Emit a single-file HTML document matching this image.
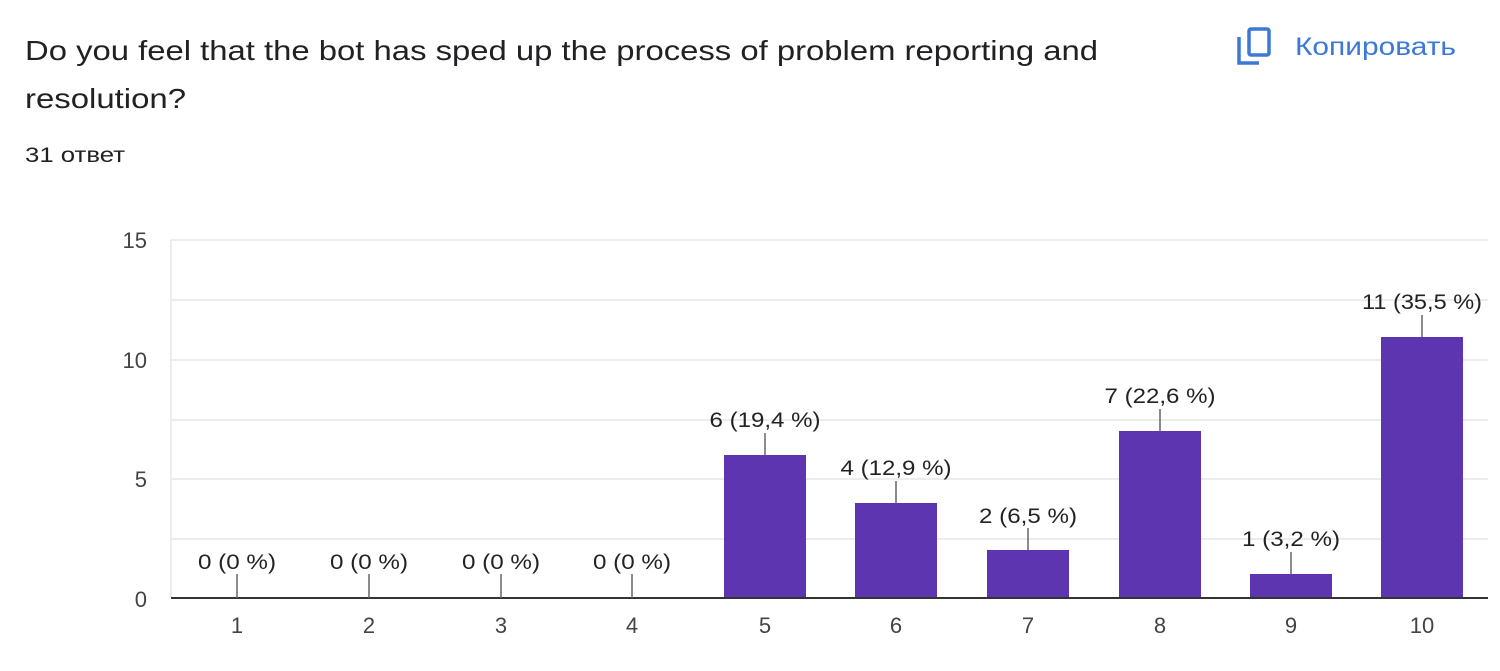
<!DOCTYPE html>
<html><head><meta charset="utf-8"><style>
html,body{margin:0;padding:0;background:#fff;width:1500px;height:671px;overflow:hidden;font-family:"Liberation Sans",Arial,sans-serif;}
</style></head><body>
<svg width="1500" height="671" xmlns="http://www.w3.org/2000/svg" font-family="Liberation Sans, Arial, sans-serif">
<text x="25" y="60" font-size="28" fill="#202124" textLength="1073" lengthAdjust="spacingAndGlyphs">Do you feel that the bot has sped up the process of problem reporting and</text>
<text x="25" y="108" font-size="28" fill="#202124" textLength="161" lengthAdjust="spacingAndGlyphs">resolution?</text>
<text x="25" y="162" font-size="21" fill="#202124" textLength="100" lengthAdjust="spacingAndGlyphs">31 ответ</text>
<g fill="none" stroke="#3c78d8" stroke-width="3.5">
<rect x="1249" y="29" width="20" height="26" rx="2"/>
<path d="M1239 37 V63 H1259"/>
</g>
<text x="1295" y="55" font-size="25" fill="#3c78d8" textLength="161" lengthAdjust="spacingAndGlyphs">Копировать</text>
<g stroke="#ececec" stroke-width="2">
<line x1="171" y1="240" x2="1488" y2="240"/>
<line x1="171" y1="300" x2="1488" y2="300"/>
<line x1="171" y1="360" x2="1488" y2="360"/>
<line x1="171" y1="420" x2="1488" y2="420"/>
<line x1="171" y1="479" x2="1488" y2="479"/>
<line x1="171" y1="539" x2="1488" y2="539"/>
<line x1="171" y1="240" x2="171" y2="598"/>
</g>
<g font-size="22" fill="#444" text-anchor="end">
<text x="147" y="248">15</text>
<text x="147" y="368">10</text>
<text x="147" y="487">5</text>
<text x="147" y="607">0</text>
</g>
<g fill="#5e35b1">
<rect x="724" y="455" width="82" height="143"/>
<rect x="855" y="503" width="82" height="95"/>
<rect x="987" y="550" width="82" height="48"/>
<rect x="1119" y="431" width="82" height="167"/>
<rect x="1250" y="574" width="82" height="24"/>
<rect x="1381" y="337" width="82" height="261"/>
</g>
<line x1="171" y1="598" x2="1488" y2="598" stroke="#333" stroke-width="2"/>
<g stroke="#666" stroke-width="1.5">
<line x1="237" y1="574" x2="237" y2="598"/>
<line x1="369" y1="574" x2="369" y2="598"/>
<line x1="501" y1="574" x2="501" y2="598"/>
<line x1="632" y1="574" x2="632" y2="598"/>
<line x1="765" y1="433" x2="765" y2="455"/>
<line x1="896" y1="481" x2="896" y2="503"/>
<line x1="1028" y1="528" x2="1028" y2="550"/>
<line x1="1160" y1="409" x2="1160" y2="431"/>
<line x1="1291" y1="552" x2="1291" y2="574"/>
<line x1="1422" y1="315" x2="1422" y2="337"/>
</g>
<g font-size="21" fill="#222" text-anchor="middle" lengthAdjust="spacingAndGlyphs">
<text x="237" y="569" textLength="78" lengthAdjust="spacingAndGlyphs">0 (0 %)</text>
<text x="369" y="569" textLength="78" lengthAdjust="spacingAndGlyphs">0 (0 %)</text>
<text x="501" y="569" textLength="78" lengthAdjust="spacingAndGlyphs">0 (0 %)</text>
<text x="632" y="569" textLength="78" lengthAdjust="spacingAndGlyphs">0 (0 %)</text>
<text x="765" y="427" textLength="111" lengthAdjust="spacingAndGlyphs">6 (19,4 %)</text>
<text x="896" y="475" textLength="111" lengthAdjust="spacingAndGlyphs">4 (12,9 %)</text>
<text x="1028" y="523" textLength="98" lengthAdjust="spacingAndGlyphs">2 (6,5 %)</text>
<text x="1160" y="403" textLength="111" lengthAdjust="spacingAndGlyphs">7 (22,6 %)</text>
<text x="1291" y="546" textLength="98" lengthAdjust="spacingAndGlyphs">1 (3,2 %)</text>
<text x="1422" y="309" textLength="120" lengthAdjust="spacingAndGlyphs">11 (35,5 %)</text>
</g>
<g font-size="22" fill="#444" text-anchor="middle">
<text x="237" y="633">1</text><text x="369" y="633">2</text><text x="501" y="633">3</text><text x="632" y="633">4</text><text x="765" y="633">5</text>
<text x="896" y="633">6</text><text x="1028" y="633">7</text><text x="1160" y="633">8</text><text x="1291" y="633">9</text><text x="1422" y="633">10</text>
</g>
</svg>
</body></html>
